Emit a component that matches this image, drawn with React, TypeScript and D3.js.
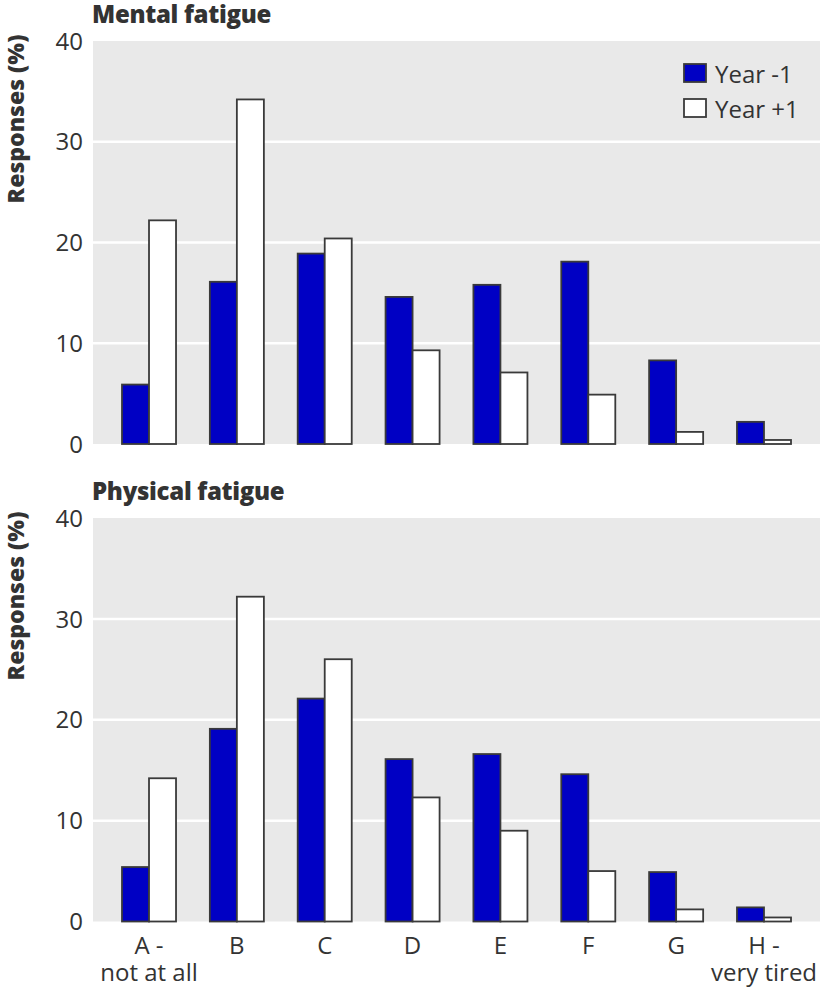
import React from "react";
import * as d3 from "d3";

const categories = ["A", "B", "C", "D", "E", "F", "G", "H"];
const categoryLabels: string[][] = [
  ["A -", "not at all"],
  ["B"],
  ["C"],
  ["D"],
  ["E"],
  ["F"],
  ["G"],
  ["H -", "very tired"],
];
const seriesNames = ["Year -1", "Year +1"];
const seriesColors = ["#0000c4", "#ffffff"];

const mentalYearMinus1 = [5.9, 16.1, 18.9, 14.6, 15.8, 18.1, 8.3, 2.2];
const mentalYearPlus1 = [22.2, 34.2, 20.4, 9.3, 7.1, 4.9, 1.2, 0.4];
const physicalYearMinus1 = [5.4, 19.1, 22.1, 16.1, 16.6, 14.6, 4.9, 1.4];
const physicalYearPlus1 = [14.2, 32.2, 26.0, 12.3, 9.0, 5.0, 1.2, 0.4];

const yTicks = [0, 10, 20, 30, 40];

const panels = [
  { title: "Mental fatigue", series: [mentalYearMinus1, mentalYearPlus1], top: 41, bottom: 444, labelMid: 119, legend: true, xLabels: false },
  { title: "Physical fatigue", series: [physicalYearMinus1, physicalYearPlus1], top: 518, bottom: 921.5, labelMid: 596, legend: false, xLabels: true },
];

const W = 820;
const H = 988;
const left = 93;
const right = 820;
const font = "'Open Sans', 'Noto Sans', sans-serif";
const textColor = "#333333";

const x = d3.scaleBand<string>().domain(categories).range([left, right]).paddingInner(0.385).paddingOuter(0.33);
const xSub = d3.scaleBand<number>().domain([0, 1]).range([0, x.bandwidth()]);

function Panel({ p }: { p: (typeof panels)[number] }) {
  const y = d3.scaleLinear().domain([0, 40]).range([p.bottom, p.top]);
  return (
    <g>
      <rect x={left} y={y(40)} width={right - left} height={y(0) - y(40)} fill="#e9e9e9" />
      {yTicks.filter((t) => t > 0 && t < 40).map((t) => (
        <line key={t} x1={left} x2={right} y1={y(t)} y2={y(t)} stroke="#ffffff" strokeWidth={2.5} />
      ))}
      {yTicks.map((t) => (
        <text key={t} x={83} y={y(t)} dy="0.36em" textAnchor="end" fontSize={24} fill={textColor} fontFamily={font}>
          {t}
        </text>
      ))}
      <text x={92} y={p.top - 18} fontSize={24} fontWeight={800} fill={textColor} fontFamily={font} letterSpacing={-0.3}>
        {p.title}
      </text>
      <text
        transform={`translate(${24},${p.labelMid}) rotate(-90)`}
        textAnchor="middle"
        fontSize={23}
        fontWeight={800}
        fill={textColor}
        fontFamily={font}
      >
        Responses (%)
      </text>
      {categories.map((c, i) =>
        p.series.map((s, k) => (
          <rect
            key={c + k}
            x={(x(c) as number) + (xSub(k) as number)}
            y={y(s[i])}
            width={xSub.bandwidth()}
            height={y(0) - y(s[i])}
            fill={seriesColors[k]}
            stroke="#3a3a3a"
            strokeWidth={1.8}
          />
        ))
      )}
      {p.xLabels &&
        categories.map((c, i) => {
          const cx = (x(c) as number) + x.bandwidth() / 2;
          return (
            <text key={c} x={cx} y={954} textAnchor="middle" fontSize={24} fill={textColor} fontFamily={font}>
              {categoryLabels[i].map((l, j) => (
                <tspan key={j} x={cx} dy={j === 0 ? 0 : 27}>
                  {l}
                </tspan>
              ))}
            </text>
          );
        })}
      {p.legend &&
        seriesNames.map((n, k) => (
          <g key={n} transform={`translate(684, ${64 + k * 35})`}>
            <rect x={0} y={0} width={22} height={18} fill={seriesColors[k]} stroke="#3a3a3a" strokeWidth={1.8} />
            <text x={31} y={19} fontSize={24} fill={textColor} fontFamily={font}>
              {n}
            </text>
          </g>
        ))}
    </g>
  );
}

export default function App() {
  return (
    <svg width={W} height={H} style={{ position: "absolute", left: 0, top: 0, background: "#fff" }}>
      {panels.map((p) => (
        <Panel key={p.title} p={p} />
      ))}
    </svg>
  );
}
